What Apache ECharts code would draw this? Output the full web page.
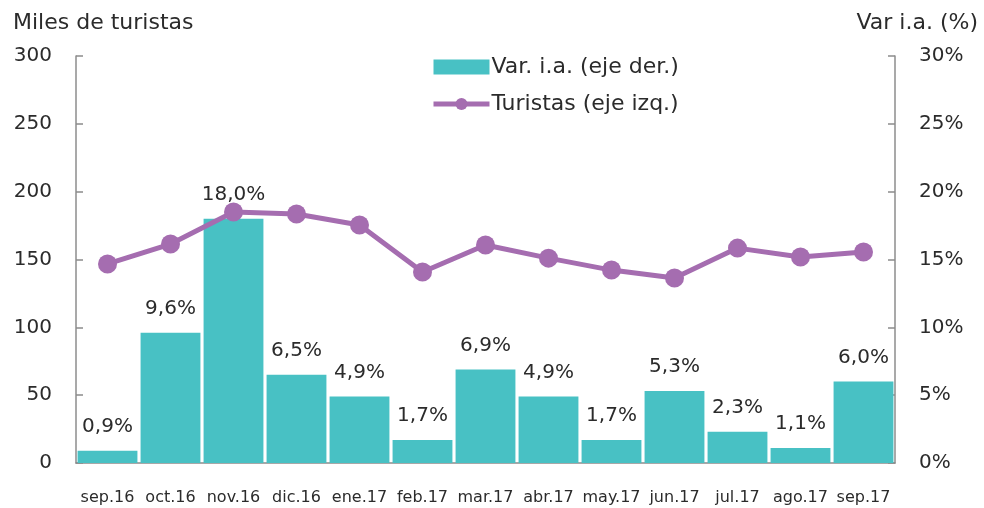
<!DOCTYPE html>
<html>
<head>
<meta charset="utf-8">
<script src="https://cdn.jsdelivr.net/npm/echarts@6/dist/echarts.min.js"></script>
<style>
  html, body { margin: 0; padding: 0; background: #fff; }
  #chart { width: 984px; height: 508px; }
</style>
</head>
<body>
<div id="chart"></div>
<script>
// datos
var categories = ['sep.16', 'oct.16', 'nov.16', 'dic.16', 'ene.17', 'feb.17', 'mar.17', 'abr.17', 'may.17', 'jun.17', 'jul.17', 'ago.17', 'sep.17']
var varIa = [0.9, 9.6, 18.0, 6.5, 4.9, 1.7, 6.9, 4.9, 1.7, 5.3, 2.3, 1.1, 6.0]
var turistas = [146.7, 161.4, 185.0, 183.5, 175.4, 140.8, 160.7, 151.0, 142.2, 136.3, 158.4, 151.8, 155.5]

var font = 'DejaVu Sans'
var txt = '#2b2b2b'

var chart = echarts.init(document.getElementById('chart'))
var option = {
  animation: false,
  textStyle: { fontFamily: font, color: txt },
  color: ['#48C1C4', '#A56DB0'],
  legend: {
    orient: 'vertical',
    left: 426,
    top: 51,
    itemWidth: 56,
    itemHeight: 15,
    itemGap: 15,
    lineStyle: { width: 5 },
    textStyle: { fontSize: 22, color: txt, padding: [0, 0, 0, -3] },
    data: [
      { name: 'Var. i.a. (eje der.)', icon: 'rect' },
      { name: 'Turistas (eje izq.)' }
    ]
  },
  grid: { left: 76, right: 89, top: 56, bottom: 45 },
  xAxis: {
    type: 'category',
    data: categories,
    axisLine: { lineStyle: { color: '#8c8c8c', width: 1.5 } },
    axisTick: { show: false },
    axisLabel: { fontSize: 16, color: txt, margin: 27, interval: 0 }
  },
  yAxis: [
    {
      type: 'value',
      name: 'Miles de turistas',
      nameLocation: 'end',
      nameGap: 22,
      nameTextStyle: { fontSize: 22, color: txt, align: 'left', padding: [0, 0, 0, -63] },
      min: 0, max: 300, interval: 50,
      axisLine: { show: true, lineStyle: { color: '#8c8c8c', width: 1.5 } },
      axisTick: { show: true, inside: true, length: 7, lineStyle: { color: '#8c8c8c', width: 1.5 } },
      axisLabel: { fontSize: 20, color: txt, margin: 24 },
      splitLine: { show: false }
    },
    {
      type: 'value',
      name: 'Var i.a. (%)',
      nameLocation: 'end',
      nameGap: 22,
      nameTextStyle: { fontSize: 22, color: txt, align: 'right', padding: [0, -83, 0, 0] },
      min: 0, max: 30, interval: 5,
      axisLine: { show: true, lineStyle: { color: '#8c8c8c', width: 1.5 } },
      axisTick: { show: true, inside: true, length: 7, lineStyle: { color: '#8c8c8c', width: 1.5 } },
      axisLabel: { fontSize: 20, color: txt, margin: 24, formatter: '{value}%' },
      splitLine: { show: false }
    }
  ],
  series: [
    {
      name: 'Var. i.a. (eje der.)',
      type: 'bar',
      yAxisIndex: 1,
      data: varIa,
      barCategoryGap: '5%',
      itemStyle: { color: '#48C1C4' },
      label: {
        show: true,
        position: 'top',
        distance: 14,
        fontSize: 20,
        color: txt,
        formatter: function(p) {
          return p.value.toFixed(1).replace('.', ',') + '%'
        }
      }
    },
    {
      name: 'Turistas (eje izq.)',
      type: 'line',
      yAxisIndex: 0,
      data: turistas,
      symbol: 'circle',
      symbolSize: 19,
      lineStyle: { color: '#A56DB0', width: 5 },
      itemStyle: { color: '#A56DB0' },
      z: 5
    }
  ]
}
chart.setOption(option)
</script>
</body>
</html>
